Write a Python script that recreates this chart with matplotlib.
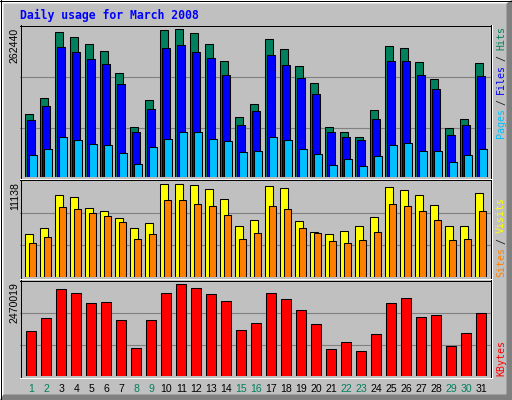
import matplotlib
matplotlib.use('Agg')
import matplotlib.pyplot as plt
from matplotlib.patches import Polygon
from matplotlib.lines import Line2D
import numpy as np

# ---------------- data ----------------
title = "Daily usage for March 2008"
days = list(range(1, 32))
day_labels = [str(d) for d in days]
weekend_days = [1, 2, 8, 9, 15, 16, 22, 23, 29, 30]

hits = [111100, 139600, 257100, 248200, 235700, 223300, 184100, 88000, 136000, 260700,
        262440, 255300, 235700, 205500, 105800, 128900, 244600, 226800, 196600, 166300,
        89700, 80800, 71900, 118200, 232200, 228600, 203700, 173400, 86200, 102200, 201900]
files = [100400, 125300, 230400, 221500, 209000, 200100, 164500, 80800, 120000, 228600,
         234000, 221500, 210800, 180500, 91500, 116400, 216200, 198300, 175200, 146700,
         80800, 70200, 66600, 102200, 205500, 205500, 180500, 155600, 75500, 91500, 178800]
pages = [39900, 50600, 70200, 66600, 59500, 57700, 43400, 23900, 54100, 68400,
         79100, 79100, 68400, 64800, 45200, 47000, 70200, 66600, 50600, 41700,
         22100, 32800, 20300, 38100, 57700, 61200, 47000, 47000, 27400, 39900, 50600]
visits = [5111, 5834, 9812, 9571, 8245, 7883, 7040, 5834, 6437, 11138,
          11120, 11100, 10535, 9330, 6075, 6798, 10897, 10656, 6678, 5352,
          5111, 5473, 6075, 7160, 10776, 10415, 9812, 8607, 6075, 6075, 10053]
sites = [4026, 4749, 8365, 8124, 7642, 7281, 6557, 4508, 5111, 9209,
         9209, 8727, 8486, 7401, 4508, 5231, 8486, 8124, 5834, 5231,
         4267, 4026, 4388, 5352, 8727, 8486, 7883, 6798, 4388, 4508, 7883]
kbytes = [1199900, 1551200, 2334900, 2226800, 1956500, 1983600, 1497100, 767500, 1497100, 2226800,
          2470019, 2361900, 2199800, 2010600, 1226900, 1416100, 2226800, 2064600, 1767400, 1389000,
          740500, 902600, 686400, 1118800, 1956500, 2091700, 1578200, 1632300, 821500, 1145800, 1686300]

# ---------------- style ----------------
BG = '#C0C0C0'
C_HITS, C_FILES, C_PAGES = '#00805C', '#0000FF', '#00C0FF'
C_VISITS, C_SITES, C_KB = '#FFFF00', '#FF8000', '#FF0000'
C_WEEKEND = '#00805C'
GRID = '#808080'

W, H = 512, 400
fig = plt.figure(figsize=(W / 100, H / 100), dpi=100, facecolor=BG)


def fx(x):
    return x / W


def fy(y):
    return 1 - y / H


def fline(x1, y1, x2, y2, color, lw=1.0):
    fig.add_artist(Line2D([fx(x1), fx(x2)], [fy(y1), fy(y2)], color=color,
                          linewidth=lw * 0.72, transform=fig.transFigure,
                          solid_capstyle='butt', antialiased=False))


# outer bevel
fig.add_artist(Polygon([(fx(0), fy(0)), (fx(512), fy(0)), (fx(506.5), fy(3.5)),
                        (fx(3.5), fy(3.5)), (fx(3.5), fy(394.5)), (fx(0), fy(400))],
                       closed=True, facecolor='white', edgecolor='none',
                       transform=fig.transFigure))
fig.add_artist(Polygon([(fx(512), fy(0)), (fx(512), fy(400)), (fx(0), fy(400)),
                        (fx(3.5), fy(394.5)), (fx(506.5), fy(394.5)), (fx(506.5), fy(3.5))],
                       closed=True, facecolor='#808080', edgecolor='none',
                       transform=fig.transFigure))
fline(0, 0.5, 512, 0.5, 'black')
fline(0.5, 0, 0.5, 400, 'black')
fline(0, 399.5, 512, 399.5, 'black')
fline(511.5, 0, 511.5, 400, 'black')

fig.text(fx(20), fy(15), title, color='#0000FF', fontfamily='DejaVu Sans Mono',
         fontsize=8.3, fontweight='bold', ha='left', va='center')

LEFT, RIGHT = 20, 491
X0 = 31.5  # pixel centre of day 1
DAYPX = 15.0
d = np.array(days, dtype=float)


def make_ax(top, bottom, vmax, head):
    ax = fig.add_axes([fx(LEFT), fy(bottom), (RIGHT - LEFT) / W, (bottom - top) / H])
    ax.set_facecolor(BG)
    ax.set_xlim(1 + (LEFT - X0) / DAYPX, 1 + (RIGHT - X0) / DAYPX)
    ylim = vmax * head
    ax.set_ylim(0, ylim)
    for frac in (0.325, 0.66):
        ax.axhline(ylim * frac, color=GRID, linewidth=0.8, zorder=0)
    for s in ax.spines.values():
        s.set_visible(False)
    ax.set_yticks([])
    ax.tick_params(axis='x', length=0)
    ax.set_xticks([])
    # panel frame
    fline(LEFT, top + 0.5, RIGHT, top + 0.5, 'black')
    fline(LEFT + 0.5, top, LEFT + 0.5, bottom + 1, 'black')
    fline(LEFT, bottom + 1.5, RIGHT + 1, bottom + 1.5, 'white')
    fline(RIGHT - 0.5, top, RIGHT - 0.5, bottom + 1, 'black')
    fline(RIGHT + 0.5, top, RIGHT + 0.5, bottom + 2, 'white')
    return ax


def bars(ax, vals, left_px, width_px, color):
    ax.bar(d + left_px / DAYPX, vals, width=width_px / DAYPX, align='edge',
           color=color, edgecolor='black', linewidth=0.75, zorder=2)


# top panel
ax1 = make_ax(25, 177, max(hits), 1.029)
bars(ax1, hits, -6.2, 7.4, C_HITS)
bars(ax1, files, -4.2, 7.6, C_FILES)
bars(ax1, pages, -2.2, 7.6, C_PAGES)

# middle panel
ax2 = make_ax(180, 277, max(visits), 1.046)
bars(ax2, visits, -6.2, 8.0, C_VISITS)
bars(ax2, sites, -2.2, 7.0, C_SITES)

# bottom panel
ax3 = make_ax(280, 376, max(kbytes), 1.047)
bars(ax3, kbytes, -5.2, 10.0, C_KB)
ax3.set_xticks(days)
ax3.set_xticklabels(day_labels, fontfamily='Liberation Sans', fontsize=7.6)
ax3.tick_params(axis='x', length=0, pad=5.5)
for lab, dd in zip(ax3.get_xticklabels(), days):
    lab.set_color(C_WEEKEND if dd in weekend_days else 'black')

# left max labels
for top, v in ((25, max(hits)), (180, max(visits)), (280, max(kbytes))):
    fig.text(fx(15), fy(top + 2.5), str(v), rotation=90, rotation_mode='anchor',
             ha='right', va='center', fontfamily='Liberation Sans', fontsize=7.6,
             color='black')

# right legends (rotated, multi-coloured)
ADV = 5.45


def legend(x, start_y, parts):
    i = 0
    for txt, col in parts:
        lead = len(txt) - len(txt.lstrip())
        fig.text(fx(x), fy(start_y - (i + lead) * ADV), txt.strip(), rotation=90,
                 rotation_mode='anchor', ha='left', va='center',
                 fontfamily='DejaVu Sans Mono', fontsize=7.2, color=col)
        i += len(txt)


legend(501, 137.5, [("Pages", C_PAGES), (" / ", '#202020'), ("Files", C_FILES),
                    (" / ", '#202020'), ("Hits", C_HITS)])
legend(501, 277, [("Sites", C_SITES), (" / ", '#202020'), ("Visits", C_VISITS)])
legend(501, 376.5, [("KBytes", C_KB)])

fig.savefig('out.png', dpi=100, facecolor=BG)
